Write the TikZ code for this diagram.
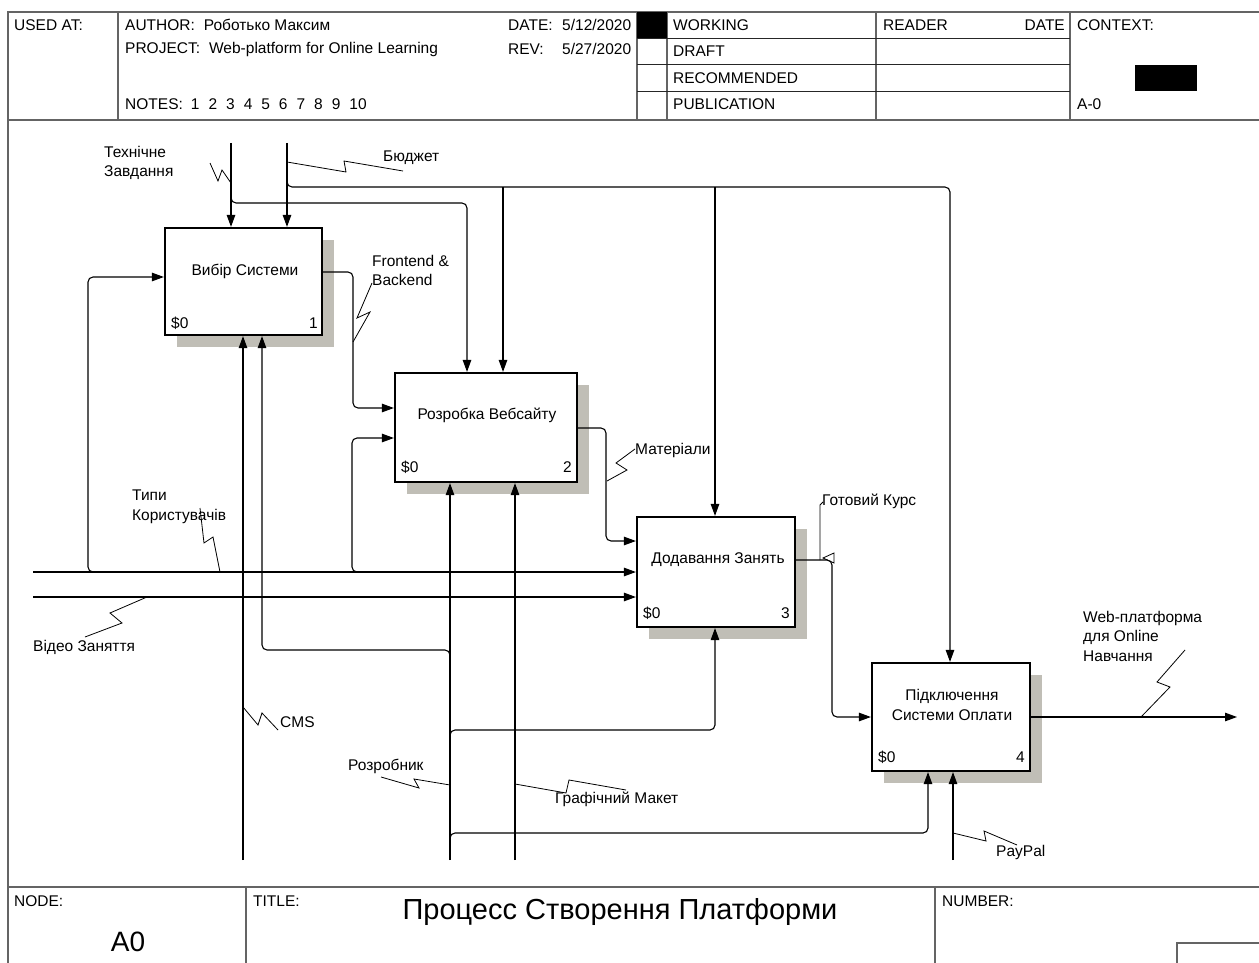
\documentclass[tikz,border=0pt]{standalone}
\usepackage{fontspec}
\setmainfont{Liberation Sans}
\usetikzlibrary{arrows.meta,calc}
\definecolor{shadowc}{RGB}{192,190,182}
\definecolor{framec}{RGB}{100,100,100}
\begin{document}
\begin{tikzpicture}[x=1pt,y=-1pt,
  txt/.style={font=\fontsize{15.5}{19.5}\selectfont,inner sep=0pt},
  lbl/.style={txt,anchor=west,align=left},
  mlbl/.style={txt,anchor=north west,align=left},
  frm/.style={line width=1.4pt,draw=framec},
  fln/.style={line width=0.9pt,draw=black!85},
  box/.style={draw,line width=2.2pt,fill=white,inner sep=0pt},
  shad/.style={fill=shadowc,draw=none},
  flow/.style={line width=1.1pt,rounded corners=5pt},
  arr/.style={flow,-{Triangle[length=12pt,width=8.5pt]}},
  sq/.style={line width=0.8pt},
  boxtxt/.style={txt,align=center},
  num/.style={txt,anchor=base west},
  numr/.style={txt,anchor=base east},
]
\useasboundingbox (0,0) rectangle (1259,963);

% ---------- frame ----------
\draw[frm] (8,963) -- (8,12) -- (1259,12);
\draw[frm,line width=2pt] (8,120) -- (1259,120);
\draw[frm] (118,12) -- (118,120);
\draw[frm] (637,12) -- (637,120);
\draw[frm] (667,12) -- (667,120);
\draw[frm] (876,12) -- (876,120);
\draw[frm] (1070,12) -- (1070,120);
\draw[fln] (637,38) -- (1070,38);
\draw[fln] (637,64) -- (1070,64);
\draw[fln] (637,91) -- (1070,91);
\fill (637,12) rectangle (667,38);
\fill (1135,65) rectangle (1197,91);

\node[lbl] (usedat) at (14,25) {USED AT:};
\node[lbl] (author) at (125,25) {AUTHOR:\hspace{9pt}Роботько Максим};
\node[lbl] (project) at (125,49) {PROJECT:\hspace{9pt}Web-platform for Online Learning};
\node[lbl] (notes) at (125,104) {NOTES:\hspace{8pt}1\hspace{9pt}2\hspace{9pt}3\hspace{9pt}4\hspace{9pt}5\hspace{9pt}6\hspace{9pt}7\hspace{9pt}8\hspace{9pt}9\hspace{9pt}10};
\node[lbl] (date) at (508,25) {\makebox[54pt][l]{DATE:}5/12/2020};
\node[lbl] (rev) at (508,49) {\makebox[54pt][l]{REV:}5/27/2020};
\node[lbl] (working) at (673,25) {WORKING};
\node[lbl] (draft) at (673,51) {DRAFT};
\node[lbl] (recom) at (673,78) {RECOMMENDED};
\node[lbl] (publ) at (673,104) {PUBLICATION};
\node[lbl] (reader) at (883,25) {READER};
\node[txt,anchor=east] (rdate) at (1065,25) {DATE};
\node[lbl] (context) at (1077,25) {CONTEXT:};
\node[lbl] (aminus) at (1077,104) {A-0};

% footer
\draw[frm,line width=2pt] (8,887) -- (1259,887);
\draw[frm] (246,887) -- (246,963);
\draw[frm] (935,887) -- (935,963);
\draw[frm] (1177,963) -- (1177,943) -- (1259,943);
\node[lbl] (nodelbl) at (14,901) {NODE:};
\node[lbl] (titlelbl) at (253,901) {TITLE:};
\node[lbl] (numberlbl) at (942,901) {NUMBER:};
\node[txt,font=\fontsize{29}{32}\selectfont] (title) at (620,912) {Процесс Створення Платформи};
\node[txt,font=\fontsize{28}{30}\selectfont] (a0) at (128,942) {A0};

% ---------- shadows ----------
\fill[shad] (177,240) rectangle (334,347);
\fill[shad] (407,385) rectangle (589,494);
\fill[shad] (649,529) rectangle (807,639);
\fill[shad] (884,675) rectangle (1042,783);

% ---------- boxes ----------
\node[box,minimum width=157pt,minimum height=107pt] (b1) at (243.5,281.5) {};
\node[box,minimum width=182pt,minimum height=109pt] (b2) at (486,427.5) {};
\node[box,minimum width=158pt,minimum height=110pt] (b3) at (716,572) {};
\node[box,minimum width=158pt,minimum height=108pt] (b4) at (951,717) {};

\node[boxtxt] (b1t) at (245,271) {Вибір Системи};
\node[boxtxt] (b2t) at (487,415) {Розробка Вебсайту};
\node[boxtxt] (b3t) at (718,560) {Додавання Занять};
\node[boxtxt] (b4t) at (952,705) {Підключення\\Системи Оплати};
\node[num] (b1a) at (171,328) {\$0};
\node[numr] (b1b) at (318,328) {1};
\node[num] (b2a) at (401,472) {\$0};
\node[numr] (b2b) at (572,472) {2};
\node[num] (b3a) at (643,618) {\$0};
\node[numr] (b3b) at (790,618) {3};
\node[num] (b4a) at (878,762) {\$0};
\node[numr] (b4b) at (1025,762) {4};

% ---------- free ends ----------
\coordinate (tz) at (231,143);
\coordinate (bj) at (287,143);
\coordinate (tp) at (33,572);
\coordinate (vz) at (33,597);
\coordinate (cms) at (243,860);
\coordinate (rb) at (450,860);
\coordinate (gm) at (515,860);
\coordinate (pp) at (953,860);
\coordinate (out) at (1237,717);

% ---------- controls ----------
\draw[arr] (tz) -- (b1.north -| tz);
\draw[arr] (231,190) |- (467,203) -- (b2.north -| 467,0);
\draw[arr] (bj) -- (b1.north -| bj);
\draw[arr] (287,176) |- (950,187) -- (b4.north -| 950,0);
\draw[arr] (503,187) -- (b2.north -| 503,0);
\draw[arr] (715,187) -- (b3.north -| 715,0);

% ---------- inputs ----------
\draw[arr] (tp) -- (b3.west |- tp);
\draw[arr] (vz) -- (b3.west |- vz);
\draw[arr] (98,572) -| (88,277) -- (b1.west |- 0,277);
\draw[arr] (362,572) -| (352,438) -- (b2.west |- 0,438);

% ---------- outputs ----------
\draw[arr] (b1.east |- 0,272) -| (353,408) -- (b2.west |- 0,408);
\draw[arr] (b2.east |- 0,428) -| (606,541) -- (b3.west |- 0,541);
\draw[arr] (b3.east |- 0,560) -| (832,717) -- (b4.west |- 0,717);
\draw[arr] (b4.east |- 0,717) -- (out);

% ---------- mechanisms ----------
\draw[arr] (cms) -- (b1.south -| cms);
\draw[arr] (rb) -- (b2.south -| rb);
\draw[arr] (gm) -- (b2.south -| gm);
\draw[arr] (pp) -- (b4.south -| pp);
\draw[arr] (450,660) |- (262,650) -- (b1.south -| 262,0);
\draw[arr] (450,740) |- (715,730) -- (b3.south -| 715,0);
\draw[arr] (450,843) |- (928,833) -- (b4.south -| 928,0);

% ---------- labels ----------
\node[mlbl] (ltz) at (104,146) {Технічне\\Завдання};
\node[lbl] (lbj) at (383,158) {Бюджет};
\node[mlbl] (lfb) at (372,255) {Frontend \&\\Backend};
\node[lbl] (lmat) at (635,450) {Матеріали};
\node[lbl] (lgk) at (822,501) {Готовий Курс};
\node[mlbl] (ltp) at (132,490) {Типи\\Користувачів};
\node[lbl] (lvz) at (33,647) {Відео Заняття};
\node[lbl] (lcms) at (280,722) {CMS};
\node[lbl] (lrb) at (348,766) {Розробник};
\node[lbl] (lgm) at (555,799) {Графічний Макет};
\node[lbl] (lpp) at (996,852) {PayPal};
\node[mlbl] (lweb) at (1083,611) {Web-платформа\\для Online\\Навчання};

% ---------- squiggles ----------
\draw[sq] (231,183) -- (222,170) -- (218,181) -- (210,163);
\draw[sq] (287,162) -- (346,172) -- (344,161) -- (403,171);
\draw[sq] (353,342) -- (370,312) -- (357,318) -- (372,283);
\draw[sq] (607,481) -- (627,470) -- (616,463) -- (635,449);
\draw[sq] (220,572) -- (213,537) -- (204,543) -- (200,508);
\draw[sq] (147,597) -- (110,613) -- (122,623) -- (85,637);
\draw[sq] (243,707) -- (258,725) -- (262,713) -- (278,730);
\draw[sq] (450,785) -- (414,779) -- (419,788) -- (381,777);
\draw[sq] (515,784) -- (566,793) -- (569,780) -- (626,790);
\draw[sq] (953,833) -- (986,841) -- (984,831) -- (1017,845);
\draw[sq] (1141,717) -- (1170,687) -- (1157,682) -- (1185,650);
\draw[sq] (820,560) -- (820,505) -- (823,502);
\draw[sq] (823,558) -- (834,553) -- (834,563) -- cycle;
\end{tikzpicture}
\end{document}
